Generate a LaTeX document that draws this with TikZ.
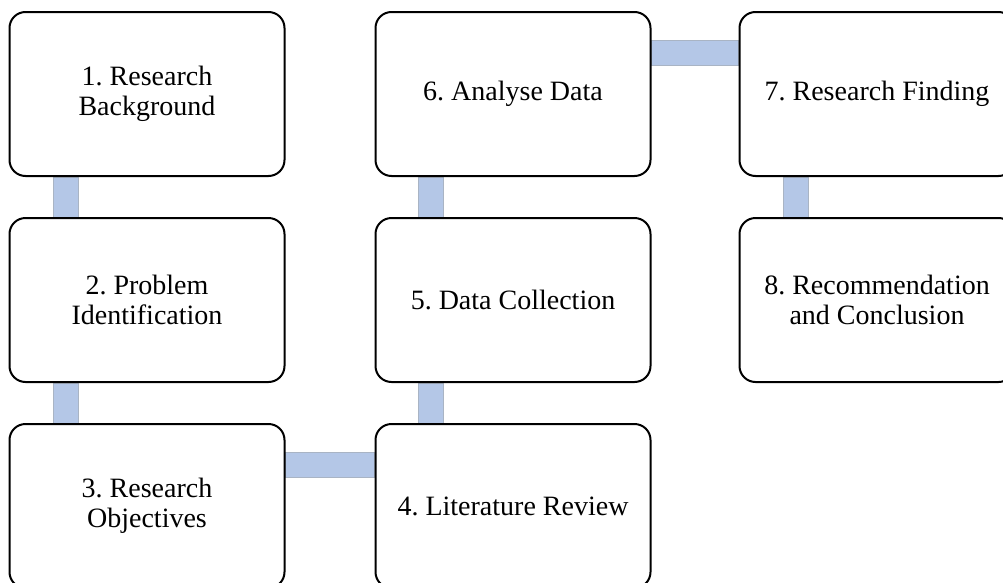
\documentclass[tikz,border=0pt]{standalone}
\usepackage{fontspec}
\setmainfont{Liberation Serif}
\frenchspacing
\usetikzlibrary{positioning, calc, backgrounds}
\definecolor{stLink}{HTML}{B4C7E7}
\definecolor{stLinkEdge}{HTML}{A9B4C4}
\tikzset{
  stepbox/.style={
    draw, rounded corners=12pt, line width=1.5pt, fill=white,
    minimum width=206.25pt, minimum height=123pt, inner sep=0pt,
    font=\fontsize{21}{22.5}\selectfont, align=center
  },
  linkbar/.style={fill=stLink, draw=stLinkEdge, line width=0.5pt}
}
\begin{document}
\begin{tikzpicture}[x=0.75pt, y=-0.75pt, node distance=30pt]
  \clip (0,0) rectangle (1003,582);
  \useasboundingbox (0,0) rectangle (1003,582);
  % research steps
  \node[stepbox] (b1) at (147,94) {1. Research\\Background};
  \node[stepbox, below=of b1] (b2) {2. Problem\\Identification};
  \node[stepbox, below=of b2] (b3) {3. Research\\Objectives};
  \node[stepbox] (b4) at (513,506) {4. Literature Review};
  \node[stepbox, above=of b4] (b5) {5. Data Collection};
  \node[stepbox, above=of b5] (b6) {6. Analyse Data};
  \node[stepbox] (b7) at (877,94) {7. Research Finding};
  \node[stepbox, below=of b7] (b8) {8. Recommendation\\and Conclusion};
  % connecting bars
  \begin{scope}[on background layer]
    \draw[linkbar] ($(b1.south)+(-93.5,0)$) rectangle ($(b2.north)+(-68.5,0)$);
    \draw[linkbar] ($(b2.south)+(-93.5,0)$) rectangle ($(b3.north)+(-68.5,0)$);
    \draw[linkbar] ($(b3.east)+(0,-54)$) rectangle ($(b4.west)+(0,-29)$);
    \draw[linkbar] ($(b4.north)+(-94.5,0)$) rectangle ($(b5.south)+(-69.5,0)$);
    \draw[linkbar] ($(b5.north)+(-94.5,0)$) rectangle ($(b6.south)+(-69.5,0)$);
    \draw[linkbar] ($(b6.east)+(0,-54)$) rectangle ($(b7.west)+(0,-29)$);
    \draw[linkbar] ($(b7.south)+(-93.5,0)$) rectangle ($(b8.north)+(-68.5,0)$);
  \end{scope}
\end{tikzpicture}
\end{document}
